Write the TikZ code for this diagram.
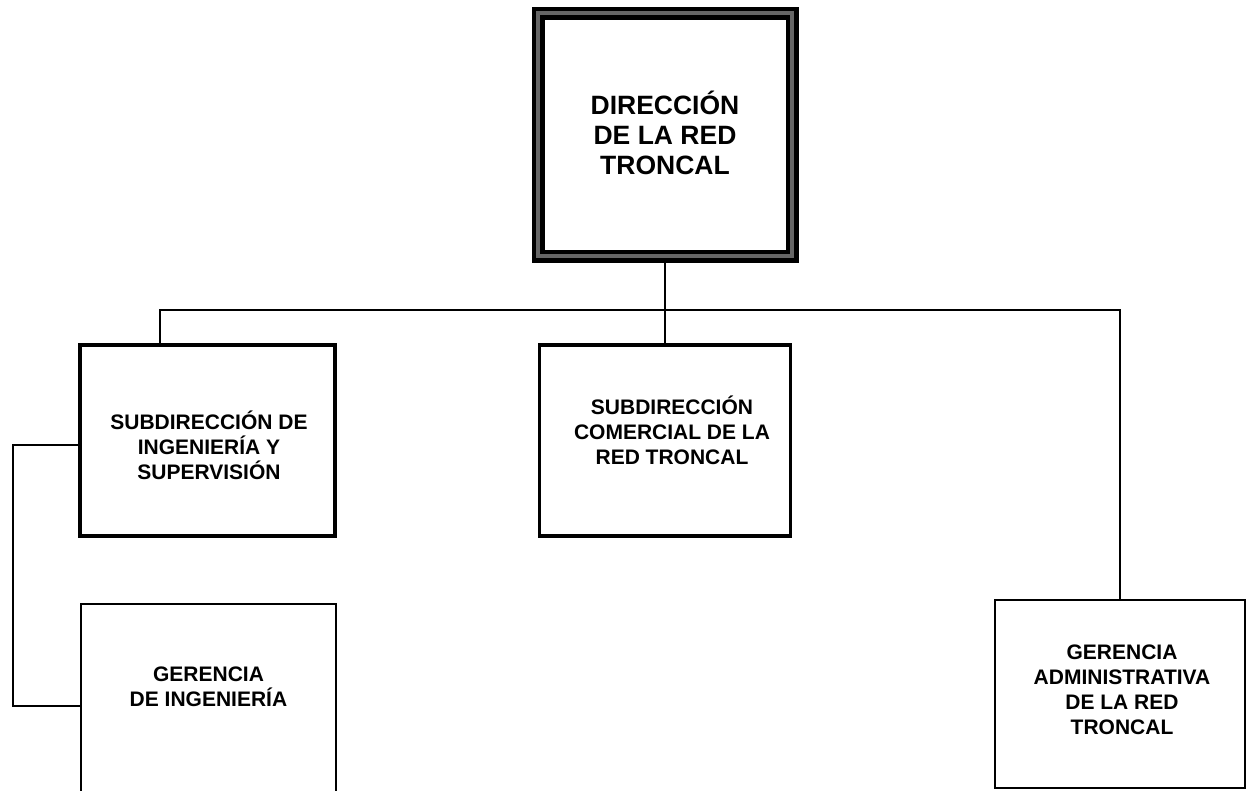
\documentclass[tikz,border=0pt]{standalone}
\usepackage{fontspec}
\setmainfont{Liberation Sans}
\usetikzlibrary{backgrounds}
\begin{document}
\begin{tikzpicture}[x=1pt,y=-1pt,
  txt/.style={font=\fontsize{21}{25}\selectfont\bfseries, align=center, inner sep=0pt},
  bigtxt/.style={font=\fontsize{26.5}{30}\selectfont\bfseries, align=center, inner sep=0pt},
  subbox/.style={draw, line width=3.5pt, rectangle, outer sep=0pt, inner sep=0pt},
  gerbox/.style={draw, line width=2pt, rectangle, outer sep=0pt, inner sep=0pt},
  topbox/.style={draw, line width=4.5pt, double=black!60, double distance=4pt, rectangle, outer sep=0pt, inner sep=0pt},
  conn/.style={line width=1.5pt}]
\useasboundingbox (0,0) rectangle (1247,791);
\node[topbox, minimum width=254pt, minimum height=243pt,
  label={[bigtxt, yshift=2pt]center:DIRECCIÓN\\DE LA RED\\TRONCAL}] (top) at (665,135) {};
\node[subbox, minimum width=255pt, minimum height=191pt,
  label={[txt, yshift=-4.5pt, xshift=1.5pt]center:SUBDIRECCIÓN DE\\INGENIERÍA Y\\SUPERVISIÓN}] (sub1) at (207.5,440.5) {};
\node[subbox, minimum width=251pt, minimum height=191pt,
  label={[txt, yshift=10.5pt, xshift=7pt]center:SUBDIRECCIÓN\\COMERCIAL DE LA\\RED TRONCAL}] (sub2) at (665,440.5) {};
\node[gerbox, minimum width=255pt, minimum height=196pt,
  label={[txt, yshift=15pt]center:GERENCIA\\DE INGENIERÍA}] (ging) at (208.5,702) {};
\node[gerbox, minimum width=250pt, minimum height=188pt,
  label={[txt, yshift=4pt, xshift=2pt]center:GERENCIA\\ADMINISTRATIVA\\DE LA RED\\TRONCAL}] (adm) at (1120,694) {};
\coordinate (bus) at (665,310);
\begin{scope}[on background layer]
\draw[conn] (top.south) -- (bus);
\draw[conn] ([xshift=-47.5pt]sub1.north) |- (bus) -| (adm.north);
\draw[conn] (bus) -- (sub2.north);
\draw[conn] ([yshift=-4.5pt]sub1.west) -- ++(-67,0) |- ([yshift=-4pt]ging.west);
\end{scope}
\end{tikzpicture}
\end{document}
